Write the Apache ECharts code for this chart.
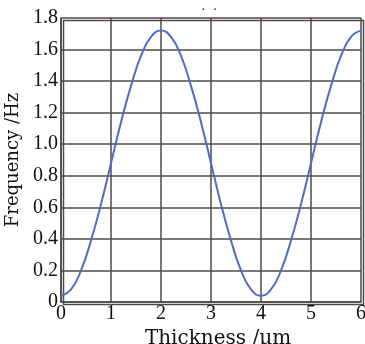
<!DOCTYPE html>
<html><head><meta charset="utf-8">
<script src="https://cdn.jsdelivr.net/npm/echarts@6/dist/echarts.min.js"></script>
<style>html,body{margin:0;padding:0;background:#fff}#c{width:365px;height:344px}</style>
</head><body><div id="c"></div>
<script>
const thickness = [0,0.2,0.4,0.6,0.8,1.0,1.2,1.4,1.6,1.8,2.0,2.2,2.4,2.6,2.8,3.0,3.2,3.4,3.6,3.8,4.0,4.2,4.4,4.6,4.8,5.0,5.2,5.4,5.6,5.8,6.0];
const frequency = [0.04,0.08,0.20,0.39,0.62,0.88,1.14,1.37,1.56,1.68,1.72,1.68,1.56,1.37,1.14,0.88,0.62,0.39,0.20,0.08,0.04,0.08,0.20,0.39,0.62,0.88,1.14,1.37,1.56,1.68,1.72];
const xTicks = [0,1,2,3,4,5,6];
const yTicks = [0,0.2,0.4,0.6,0.8,1.0,1.2,1.4,1.6,1.8];
const tickFont = '"Liberation Serif","DejaVu Serif",serif';
const nameFont = '"DejaVu Serif","Liberation Serif",serif';
const gridColor = '#4f4a47';
const chart = echarts.init(document.getElementById('c'));
chart.setOption({
  animation:false,
  grid:{left:61,right:4,top:18,bottom:42,containLabel:false,outerBoundsMode:'none'},
  xAxis:{type:'value',min:0,max:6,interval:1,
    name:'Thickness /\u03bcm',nameLocation:'middle',nameGap:25,
    nameTextStyle:{fontFamily:nameFont,fontSize:20,color:'#111',padding:[0,0,0,14]},
    axisLine:{show:true,lineStyle:{color:gridColor,width:1.5}},
    axisTick:{show:false},
    axisLabel:{fontFamily:tickFont,fontSize:20,color:'#111',margin:2,
      formatter:v=>xTicks.includes(v)?String(v):''},
    splitLine:{show:true,lineStyle:{color:gridColor,width:1.5}}},
  yAxis:{type:'value',min:0,max:1.8,interval:0.2,
    name:'Frequency /Hz',nameLocation:'middle',nameGap:35,nameRotate:90,
    nameTextStyle:{fontFamily:nameFont,fontSize:18,color:'#111'},
    axisLine:{show:true,lineStyle:{color:gridColor,width:1.5}},
    axisTick:{show:false},
    axisLabel:{fontFamily:tickFont,fontSize:20,color:'#111',margin:3,
      formatter:v=>{const t=yTicks.find(y=>Math.abs(y-v)<1e-6);return t===undefined?'':(t===0?'0':t.toFixed(1));}},
    splitLine:{show:true,lineStyle:{color:gridColor,width:1.5}}},
  graphic:[{type:'rect',left:61,top:18,shape:{width:300,height:284},style:{fill:'none',stroke:gridColor,lineWidth:1.5},silent:true},
    {type:'text',left:201,top:3,style:{text:'\u00b7  \u00b7',font:'14px '+tickFont,fill:'#333'}}],
  series:[{type:'line',data:thickness.map((x,i)=>[x,frequency[i]]),smooth:true,showSymbol:false,
    lineStyle:{color:'#4f6cc6',width:2}}]
});
</script></body></html>
